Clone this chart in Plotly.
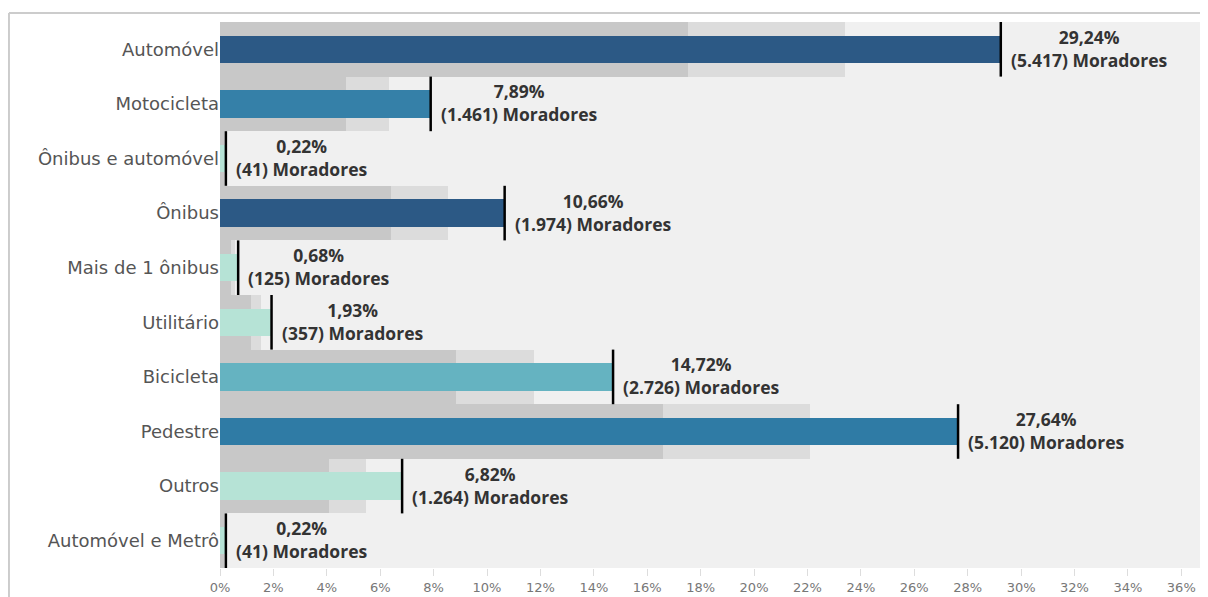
import plotly.graph_objects as go

categories = ["Automóvel", "Motocicleta", "Ônibus e automóvel", "Ônibus", "Mais de 1 ônibus",
              "Utilitário", "Bicicleta", "Pedestre", "Outros", "Automóvel e Metrô"]
pct = [29.24, 7.89, 0.22, 10.66, 0.68, 1.93, 14.72, 27.64, 6.82, 0.22]
moradores = ["5.417", "1.461", "41", "1.974", "125", "357", "2.726", "5.120", "1.264", "41"]
bar_colors = ["#2c5985", "#3580a8", "#b6e3d6", "#2c5985", "#b6e3d6",
              "#b6e3d6", "#65b3c1", "#2f7ba5", "#b6e3d6", "#b6e3d6"]
tick_vals = list(range(0, 37, 2))
tick_text = [f"{t}%" for t in tick_vals]

idx = list(range(len(categories)))
band60 = [v * 0.6 for v in pct]
band80 = [v * 0.8 for v in pct]

fig = go.Figure()
fig.add_trace(go.Bar(x=band80, y=idx, orientation="h", width=1.0,
                     marker=dict(color="#dcdcdc", line=dict(width=0)), hoverinfo="skip"))
fig.add_trace(go.Bar(x=band60, y=idx, orientation="h", width=1.0,
                     marker=dict(color="#c8c8c8", line=dict(width=0)), hoverinfo="skip"))
fig.add_trace(go.Bar(x=pct, y=idx, orientation="h", width=0.5,
                     marker=dict(color=bar_colors, line=dict(width=0))))

lx, ly = [], []
for i, v in zip(idx, pct):
    lx += [v, v, None]
    ly += [i - 0.5, i + 0.5, None]
fig.add_trace(go.Scatter(x=lx, y=ly, mode="lines", line=dict(color="black", width=2.5),
                         hoverinfo="skip"))

annotations = []
for i, v, m in zip(idx, pct, moradores):
    l1 = f"{v:.2f}".replace(".", ",") + "%"
    l2 = f"({m}) Moradores"
    annotations.append(dict(x=v, y=i, xref="x", yref="y", text=f"{l1}<br>{l2}",
                            showarrow=False, xanchor="left", yanchor="middle", align="center",
                            xshift=8, yshift=1,
                            font=dict(family="Open Sans", size=17.5, color="#333333",
                                      weight="bold")))

shapes = [
    dict(type="line", xref="paper", yref="paper", x0=-0.2136, x1=1.05, y0=1.0165, y1=1.0165,
         line=dict(color="#cccccc", width=2), layer="below"),
    dict(type="line", xref="paper", yref="paper", x0=-0.2136, x1=-0.2136, y0=1.0165, y1=-0.1,
         line=dict(color="#cccccc", width=2), layer="below"),
]

fig.update_layout(
    width=1200, height=589,
    margin=dict(l=212, r=0, t=14, b=29, pad=0),
    barmode="overlay", bargap=0,
    showlegend=False,
    plot_bgcolor="#f0f0f0", paper_bgcolor="white",
    annotations=annotations, shapes=shapes,
    xaxis=dict(range=[0, 37], tickvals=tick_vals, ticktext=tick_text, showgrid=False,
               zeroline=False, showline=False, ticks="outside", ticklen=7,
               tickcolor="#dddddd", tickfont=dict(family="DejaVu Sans", size=13, color="#777777")),
    yaxis=dict(range=[9.5, -0.5], tickvals=idx, ticktext=categories, showgrid=False,
               zeroline=False, showline=False, ticks="",
               tickfont=dict(family="DejaVu Sans", size=18, color="#555555")),
)

fig.write_html("out.html")
